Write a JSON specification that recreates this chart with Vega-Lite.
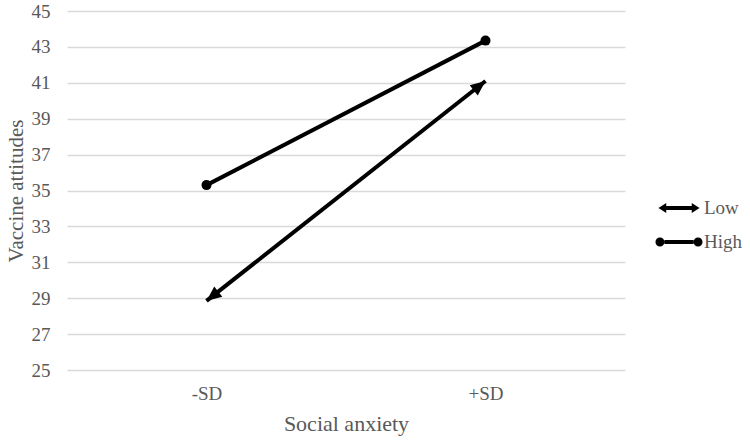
{
  "$schema": "https://vega.github.io/schema/vega-lite/v6.json",
  "width": 558,
  "height": 359,
  "autosize": {"type": "none"},
  "padding": {"left": 67, "top": 11, "right": 125, "bottom": 71},
  "background": "white",
  "config": {
    "view": {"stroke": null},
    "font": "Liberation Serif",
    "axis": {"labelFont": "Liberation Serif", "titleFont": "Liberation Serif", "labelColor": "#595959", "titleColor": "#595959", "titleFontWeight": "normal"},
    "legend": {"labelFont": "Liberation Serif"}
  },
  "data": {
    "values": [
      {"series": "Low", "x": "-SD", "y": 28.85},
      {"series": "Low", "x": "+SD", "y": 41.1},
      {"series": "High", "x": "-SD", "y": 35.3},
      {"series": "High", "x": "+SD", "y": 43.35}
    ]
  },
  "encoding": {
    "x": {
      "field": "x", "type": "ordinal", "sort": ["-SD", "+SD"],
      "scale": {"type": "point", "padding": 0.5},
      "axis": {"title": "Social anxiety", "labelAngle": 0, "labelFontSize": 19, "titleFontSize": 22, "domain": false, "ticks": false, "grid": false, "labelPadding": 14, "titlePadding": 10}
    },
    "y": {
      "field": "y", "type": "quantitative",
      "scale": {"domain": [25, 45], "nice": false, "zero": false},
      "axis": {"title": "Vaccine attitudes", "values": [25, 27, 29, 31, 33, 35, 37, 39, 41, 43, 45], "labelFontSize": 19, "titleFontSize": 21, "domain": false, "ticks": false, "grid": true, "gridColor": "#d9d9d9", "gridWidth": 1.3, "labelPadding": 17, "titlePadding": 5}
    }
  },
  "layer": [
    {
      "mark": {"type": "line", "color": "black", "strokeWidth": 4},
      "encoding": {"detail": {"field": "series"}}
    },
    {
      "transform": [{"filter": "datum.series == 'High'"}],
      "mark": {"type": "point", "shape": "circle", "filled": true, "color": "black", "opacity": 1, "size": 100}
    },
    {
      "transform": [{"filter": "datum.series == 'Low' && datum.x == '+SD'"}],
      "mark": {"type": "point", "shape": "M0,0 L0.65,1.5 L-0.65,1.5 Z", "filled": true, "color": "black", "opacity": 1, "size": 400, "angle": 51.75}
    },
    {
      "transform": [{"filter": "datum.series == 'Low' && datum.x == '-SD'"}],
      "mark": {"type": "point", "shape": "M0,0 L0.65,1.5 L-0.65,1.5 Z", "filled": true, "color": "black", "opacity": 1, "size": 400, "angle": 231.75}
    },
    {
      "transform": [{"filter": "false"}],
      "mark": {"type": "point", "filled": true, "color": "black", "opacity": 1},
      "encoding": {
        "shape": {
          "field": "series", "type": "nominal",
          "scale": {
            "domain": ["Low", "High"],
            "range": [
              "M-1.37,0 L-0.85,-0.33 L-0.85,-0.13 L0.85,-0.13 L0.85,-0.33 L1.37,0 L0.85,0.33 L0.85,0.13 L-0.85,0.13 L-0.85,0.33 Z",
              "M-0.97,-0.13 L0.97,-0.13 L0.97,0.13 L-0.97,0.13 Z M-1.57,0 A0.3,0.3 0 1,0 -0.97,0 A0.3,0.3 0 1,0 -1.57,0 Z M0.97,0 A0.3,0.3 0 1,0 1.57,0 A0.3,0.3 0 1,0 0.97,0 Z"
            ]
          },
          "legend": {
            "title": null, "orient": "none", "legendX": 597, "legendY": 182,
            "padding": 0, "symbolSize": 900, "symbolFillColor": "black", "symbolStrokeWidth": 0, "symbolOpacity": 1,
            "labelFontSize": 19, "labelColor": "#595959", "labelOffset": 10, "rowPadding": 9
          }
        }
      }
    }
  ]
}
